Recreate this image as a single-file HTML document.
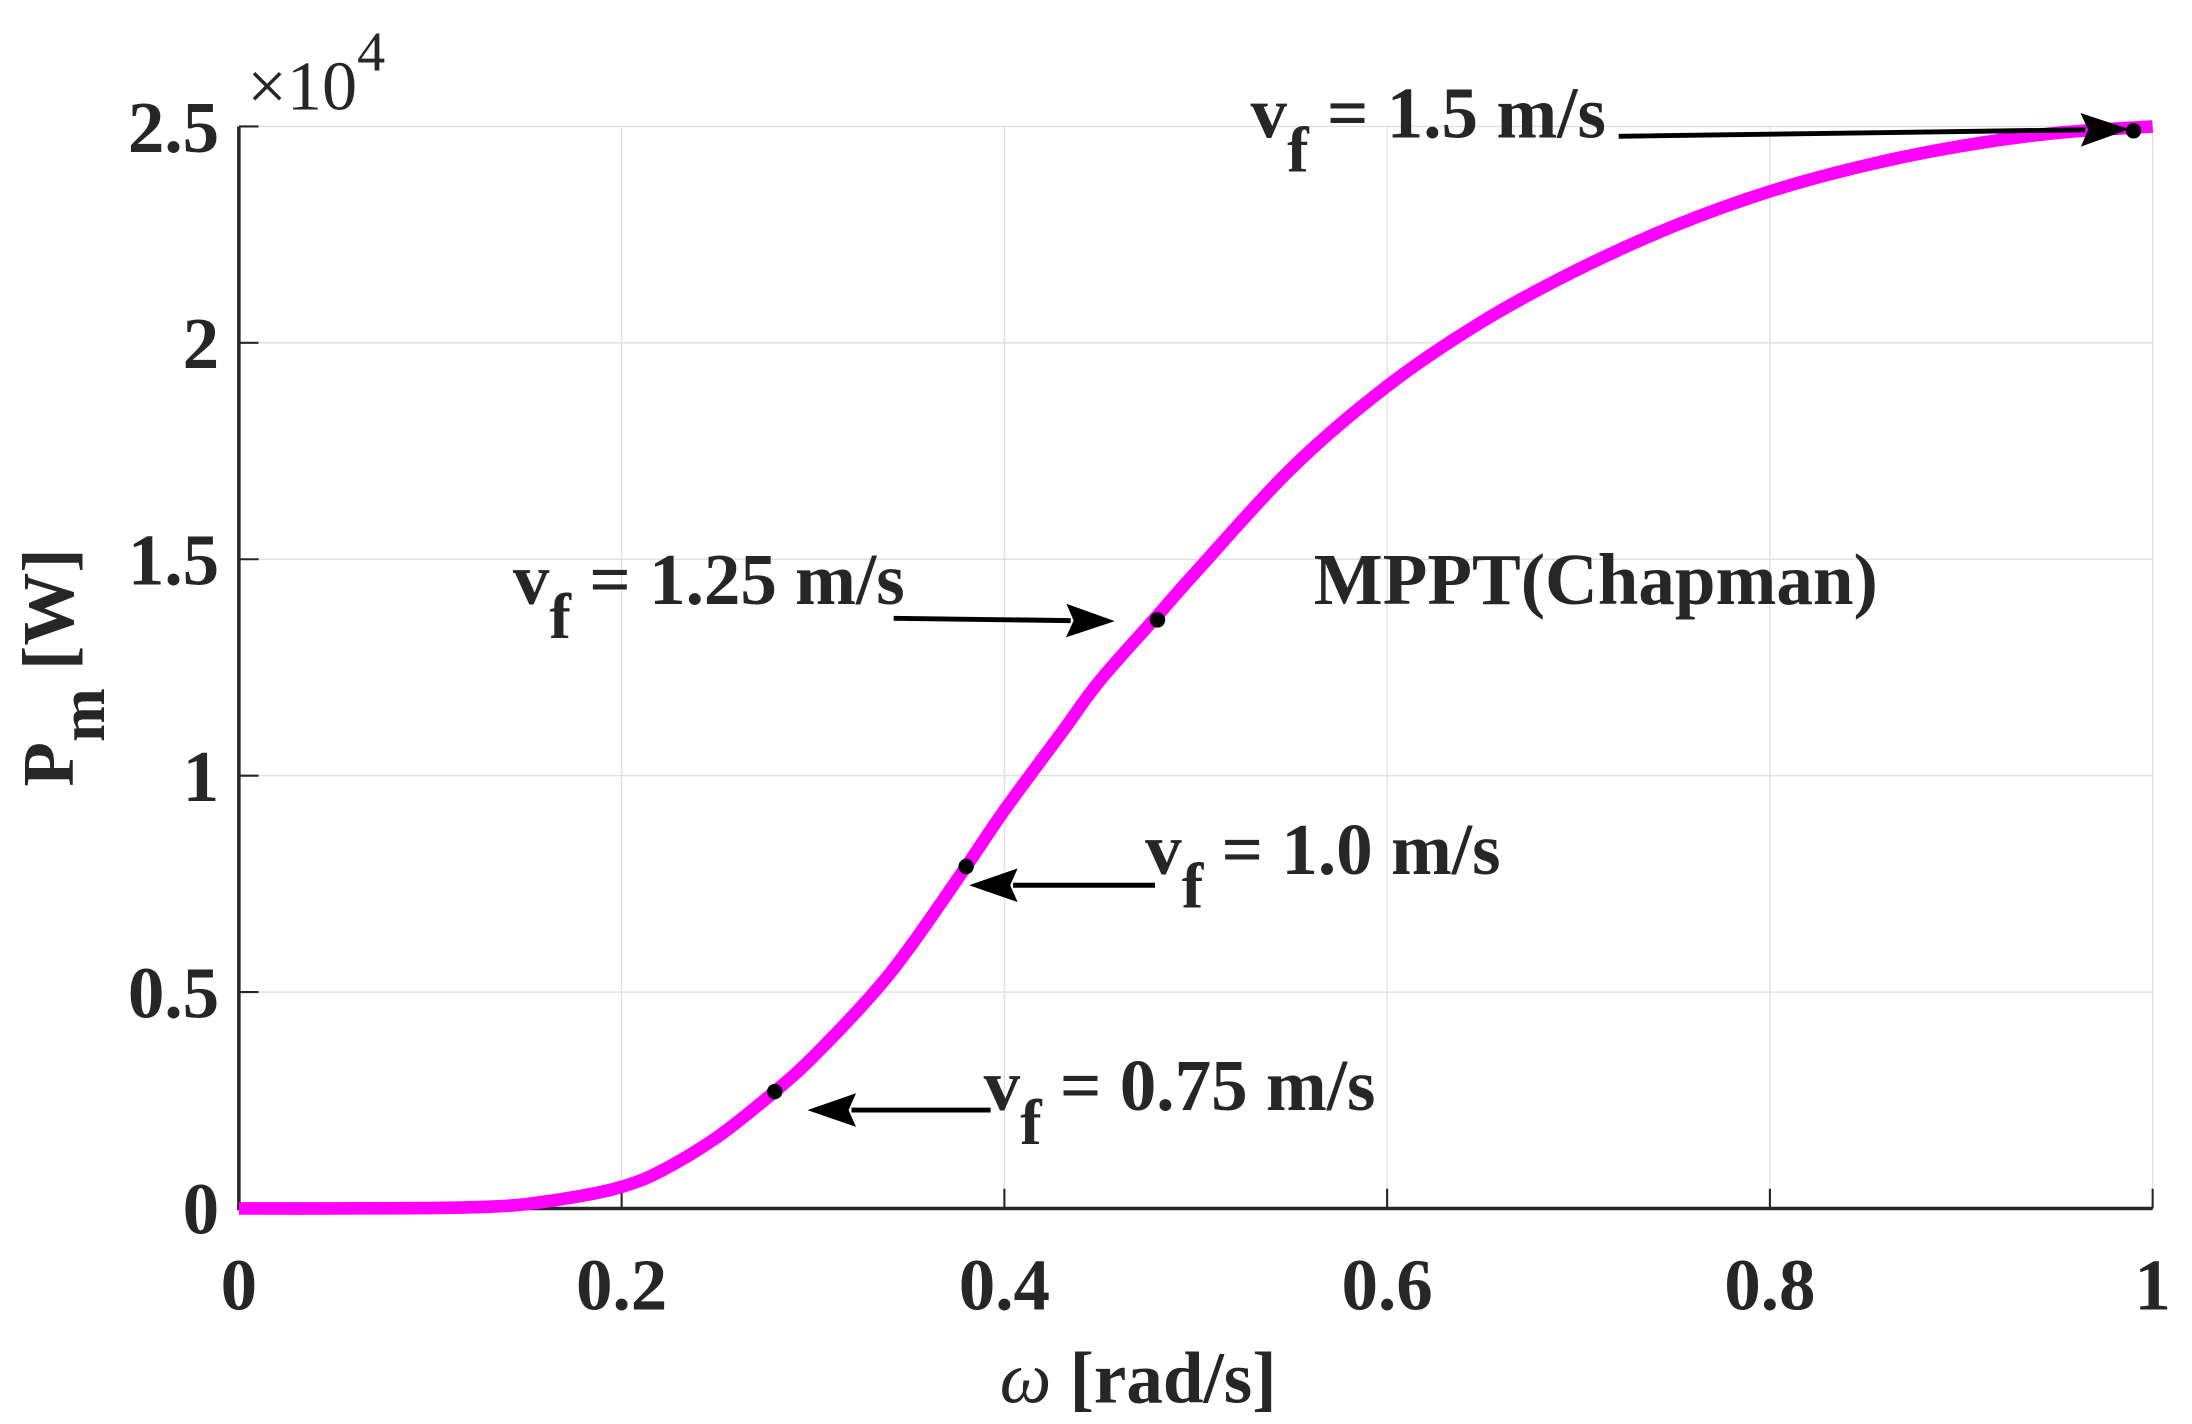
<!DOCTYPE html>
<html><head><meta charset="utf-8"><style>
html,body{margin:0;padding:0;background:#fff}
svg{display:block}
text{font-family:"Liberation Serif",serif;fill:#262626}
</style></head><body>
<svg id="chart" width="2192" height="1424" viewBox="0 0 1560 1013.4" preserveAspectRatio="none" xmlns="http://www.w3.org/2000/svg">
<g id="grid"></g>
<g id="axes"></g>
<g id="series"></g>
<g id="ann"></g>
</svg>
<script>
const xTicks=[0,0.2,0.4,0.6,0.8,1];
const xTickLabels=["0","0.2","0.4","0.6","0.8","1"];
const yTicks=[0,0.5,1,1.5,2,2.5];
const yTickLabels=["0","0.5","1","1.5","2","2.5"];
const omega=[0,0.05,0.1,0.13,0.15,0.18,0.2,0.22,0.25,0.28,0.3,0.33,0.35,0.38,0.4,0.43,0.45,0.48,0.5,0.55,0.6,0.65,0.7,0.75,0.8,0.85,0.9,0.95,1.0];
const power=[0,0,0.001,0.004,0.01,0.03,0.05,0.085,0.165,0.27,0.35,0.49,0.6,0.79,0.92,1.1,1.22,1.37,1.47,1.71,1.9,2.05,2.17,2.27,2.35,2.41,2.455,2.485,2.5];
const markX=[0.28,0.38,0.48,0.99];
const markY=[0.27,0.79,1.36,2.49];
const L=170,R=1532,T=90,B=860;
const sx=v=>L+(v-0)/(1-0)*(R-L);
const sy=v=>B-(v-0)/(2.5-0)*(B-T);
const NS="http://www.w3.org/2000/svg";
function mk(tag,attrs,parent){const e=document.createElementNS(NS,tag);for(const k in attrs)e.setAttribute(k,attrs[k]);parent.appendChild(e);return e;}
const grid=document.getElementById('grid'),axes=document.getElementById('axes'),series=document.getElementById('series');
xTicks.forEach((t,i)=>{
 const g=mk('line',{x1:sx(t),x2:sx(t),y1:T,y2:B,stroke:'#e0e0e0','stroke-width':1},grid);
 
 
 const tk=mk('line',{x1:sx(t),x2:sx(t),y1:B,y2:B-14,stroke:'#262626','stroke-width':1.5},axes);
 
 
 const tx=mk('text',{x:sx(t),y:B+72,'font-size':52,'font-weight':'bold','text-anchor':'middle'},axes);
 tx.textContent=xTickLabels[i];
 
 
});
yTicks.forEach((t,i)=>{
 const g=mk('line',{x1:L,x2:R,y1:sy(t),y2:sy(t),stroke:'#e0e0e0','stroke-width':1},grid);
 
 
 const tk=mk('line',{x1:L,x2:L+14,y1:sy(t),y2:sy(t),stroke:'#262626','stroke-width':1.5},axes);
 
 
 const tx=mk('text',{x:L-14,y:sy(t)+18,'font-size':52,'font-weight':'bold','text-anchor':'end'},axes);
 tx.textContent=yTickLabels[i];
 
 
});
const ax=mk('path',{d:`M${L},${T}V${B}H${R}`,fill:'none',stroke:'#262626','stroke-width':2.5},axes);


const P=omega.map((w,i)=>[sx(w),sy(power[i])]);
let d='M'+P[0][0].toFixed(1)+','+P[0][1].toFixed(1);
for(let i=0;i<P.length-1;i++){
 const p0=P[Math.max(i-1,0)],p1=P[i],p2=P[i+1],p3=P[Math.min(i+2,P.length-1)];
 const c1=[p1[0]+(p2[0]-p0[0])/6,p1[1]+(p2[1]-p0[1])/6];
 const c2=[p2[0]-(p3[0]-p1[0])/6,p2[1]-(p3[1]-p1[1])/6];
 d+=`C${c1[0].toFixed(1)},${c1[1].toFixed(1)} ${c2[0].toFixed(1)},${c2[1].toFixed(1)} ${p2[0].toFixed(1)},${p2[1].toFixed(1)}`;
}
const ln=mk('path',{d:d,fill:'none',stroke:'#ff00ff','stroke-width':9,'stroke-linejoin':'round'},series);


markX.forEach((x,i)=>{
 const c=mk('circle',{cx:sx(x),cy:sy(markY[i]),r:5.5,fill:'#000'},series);
 
 
});
</script>
<script>
(function(){
const NS="http://www.w3.org/2000/svg",ann=document.getElementById('ann');
function arrow(x1,y1,x2,y2){
 const a=Math.atan2(y2-y1,x2-x1),h=26,w=9;
 const p=document.createElementNS(NS,'path');
 const bx=x2-h*Math.cos(a),by=y2-h*Math.sin(a);
 p.setAttribute('d',`M${x1},${y1}L${bx},${by}M${x2},${y2}L${bx-w*Math.sin(a)},${by+w*Math.cos(a)}L${bx+4*Math.cos(a)},${by+4*Math.sin(a)}L${bx+w*Math.sin(a)},${by-w*Math.cos(a)}Z`);
 p.setAttribute('stroke','#000');p.setAttribute('stroke-width',3.5);p.setAttribute('fill','#000');
 
 
 ann.appendChild(p);
}
function label(x,y,rest){
 const t=document.createElementNS(NS,'text');
 t.setAttribute('x',x);t.setAttribute('y',y);t.setAttribute('font-size',52);t.setAttribute('font-weight','bold');t.setAttribute('fill','#000');
 t.innerHTML='v<tspan dy="24" font-size="46">f</tspan><tspan dy="-24"> = '+rest+'</tspan>';
 
 
 ann.appendChild(t);
}
label(890,98,'1.5 m/s');arrow(1152,97,1510,92);
label(365,430,'1.25 m/s');arrow(636,440,788,442);
label(815,622,'1.0 m/s');arrow(822,630,695,630);
label(700,790,'0.75 m/s');arrow(705,790,580,790);
const m=document.createElementNS(NS,'text');
m.setAttribute('x',935);m.setAttribute('y',430);m.setAttribute('font-size',52);m.setAttribute('font-weight','bold');m.setAttribute('fill','#000');
m.textContent='MPPT(Chapman)';


ann.appendChild(m);
const e=document.createElementNS(NS,'text');
e.setAttribute('x',176);e.setAttribute('y',78);e.setAttribute('font-size',50);
e.innerHTML='×10<tspan dy="-28" font-size="40">4</tspan>';


ann.appendChild(e);
const xl=document.createElementNS(NS,'text');
xl.setAttribute('x',810);xl.setAttribute('y',998);xl.setAttribute('font-size',52);xl.setAttribute('font-weight','bold');xl.setAttribute('text-anchor','middle');
xl.innerHTML='<tspan font-style="italic" font-weight="normal">ω</tspan> [rad/s]';


ann.appendChild(xl);
const yl=document.createElementNS(NS,'text');
yl.setAttribute('transform','translate(52,475) rotate(-90)');yl.setAttribute('font-size',52);yl.setAttribute('font-weight','bold');yl.setAttribute('text-anchor','middle');
yl.innerHTML='P<tspan dy="22" font-size="46">m</tspan><tspan dy="-22"> [W]</tspan>';


ann.appendChild(yl);
})();
</script>
</body></html>
